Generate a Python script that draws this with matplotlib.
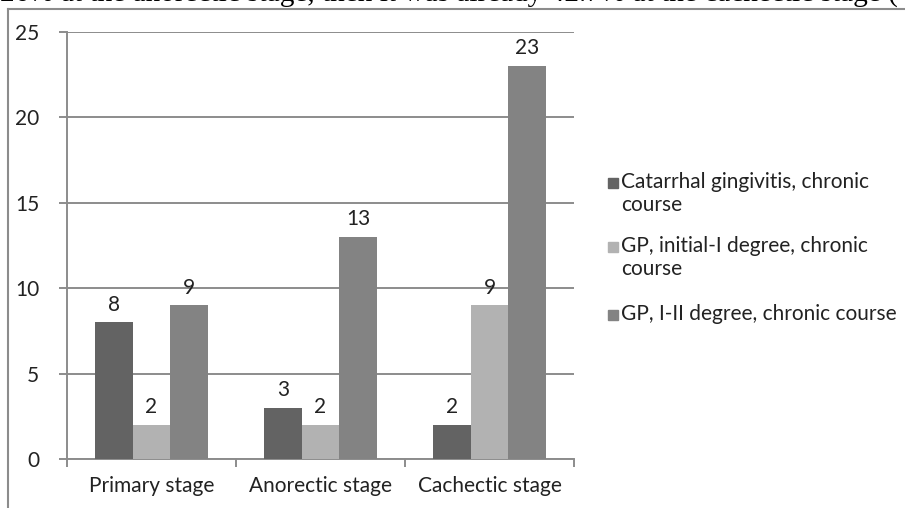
import numpy as np
import matplotlib
matplotlib.use("Agg")
import matplotlib.pyplot as plt
from matplotlib.patches import Rectangle
from matplotlib.lines import Line2D

# Данные диаграммы
stages = ["Primary stage", "Anorectic stage", "Cachectic stage"]
series_names = ["Catarrhal gingivitis, chronic\ncourse",
                "GP, initial-I degree, chronic\ncourse",
                "GP, I-II degree, chronic course"]
catarrhal = [8, 3, 2]
gp_initial = [2, 2, 9]
gp_1_2 = [9, 13, 23]
y_ticks = [0, 5, 10, 15, 20, 25]

colors = ["#636363", "#b2b2b2", "#838383"]
grid_col = "#8c8c8c"
font = ["Lato", "DejaVu Sans"]
fs = 15

fig = plt.figure(figsize=(9.05, 5.08), dpi=100)
W, H = 905, 508

# Рамка вокруг диаграммы (обрезана снизу и справа)
fig.add_artist(Line2D([8 / W, 8 / W], [0, 1 - 9 / H], transform=fig.transFigure,
                      color=grid_col, lw=1.5))
fig.add_artist(Line2D([8 / W, 1], [1 - 9 / H, 1 - 9 / H], transform=fig.transFigure,
                      color=grid_col, lw=1.5))

# Обрезанная строка текста сверху
fig.text(0.0, 1 - 1.0 / H,
         "26% at the anorectic stage, then it was already 42.7% at the cachectic stage (",
         family=["Liberation Serif"], fontsize=21.1, va="baseline", ha="left", color="black")

ax = fig.add_axes([67 / W, 1 - 459 / H, (574 - 67) / W, (459 - 32) / H])

x = np.arange(len(stages))
w = 1 / 4.5
for i, vals in enumerate([catarrhal, gp_initial, gp_1_2]):
    bars = ax.bar(x + (i - 1) * w, vals, width=w, color=colors[i], zorder=3)
    for b, v in zip(bars, vals):
        ax.text(b.get_x() + b.get_width() / 2, v + 0.45, str(v), ha="center", va="bottom",
                family=font, fontsize=fs, color="#222222")

ax.set_xlim(-0.5, 2.5)
ax.set_ylim(0, 25)
ax.set_yticks(y_ticks)
ax.set_yticklabels([str(t) for t in y_ticks], family=font, fontsize=fs)
ax.set_xticks(x)
ax.set_xticklabels(stages, family=font, fontsize=fs)
ax.set_xticks([-0.5, 0.5, 1.5, 2.5], minor=True)
ax.tick_params(axis="x", which="major", length=0, pad=12)
ax.tick_params(axis="x", which="minor", length=6, color=grid_col, width=1.4, direction="out")
ax.tick_params(axis="y", length=6, color=grid_col, width=1.4, pad=14, labelcolor="#222222")
ax.tick_params(axis="x", labelcolor="#222222")
ax.grid(axis="y", color=grid_col, lw=1.4, zorder=0)
for s in ["top", "right"]:
    ax.spines[s].set_visible(False)
for s in ["left", "bottom"]:
    ax.spines[s].set_color(grid_col)
    ax.spines[s].set_linewidth(1.4)

# Легенда вручную
leg_y = [183, 247, 315]
for name, col, yy in zip(series_names, colors, leg_y):
    fig.add_artist(Rectangle((608 / W, 1 - (yy + 5) / H), 10 / W, 10 / H,
                             transform=fig.transFigure, color=col))
    fig.text(621 / W, 1 - (yy - 11) / H, name, family=font, fontsize=fs, va="top",
             ha="left", linespacing=1.2, color="#222222")

fig.savefig("out.png", dpi=100)
